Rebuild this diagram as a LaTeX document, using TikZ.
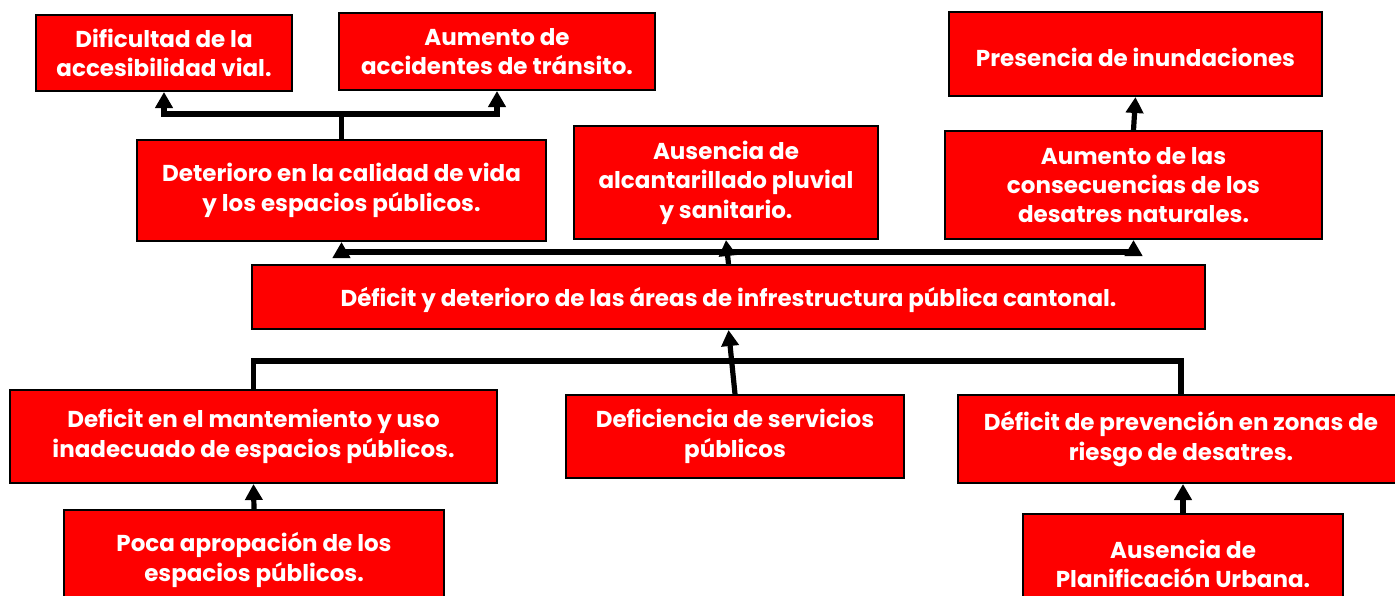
\documentclass[tikz,border=0pt]{standalone}
\usepackage{fontspec}
\setmainfont{Poppins}
\usepackage{tikz}
\usetikzlibrary{arrows.meta}
\definecolor{boxred}{HTML}{FE0000}

\begin{document}
\begin{tikzpicture}[x=0.5pt, y=-0.5pt,
    box/.style={draw=black, line width=1pt, fill=boxred, text=white, align=center,
        inner sep=2pt, font=\fontsize{11.5pt}{14.7pt}\selectfont\bfseries,
        execute at begin node={\rule{0pt}{13pt}}},
    link/.style={line width=2.6pt, line join=miter},
    arr/.style={link, -{Triangle[length=8pt, width=8.5pt]}}]
        \useasboundingbox (0,0) rectangle (1395,595);

        % Efectos
        \node[box, minimum width=128pt, minimum height=38pt] (acc) at (164,53)
            {Dificultad de la\\accesibilidad vial.};
        \node[box, minimum width=158pt, minimum height=38.5pt] (trans) at (497,51.5)
            {Aumento de\\accidentes de tránsito.};
        \node[box, minimum width=186.5pt, minimum height=42pt] (inund) at (1135.5,54)
            {Presencia de inundaciones};
        \node[box, minimum width=204.5pt, minimum height=50.5pt] (vida) at (341.5,190.5)
            {Deterioro en la calidad de vida\\y los espacios públicos.};
        \node[box, minimum width=152pt, minimum height=56.5pt] (alcant) at (726,182.5)
            {Ausencia de\\alcantarillado pluvial\\y sanitario.};
        \node[box, minimum width=188.5pt, minimum height=54pt] (desas) at (1133.5,185)
            {Aumento de las\\consecuencias de los\\desatres naturales.};

        % Problema central
        \node[box, minimum width=476.5pt, minimum height=32pt] (prob) at (728.5,297)
            {Déficit y deterioro de las áreas de infrestructura pública cantonal.};

        % Causas
        \node[box, minimum width=243.5pt, minimum height=46.5pt] (mant) at (253.5,436.5)
            {Deficit en el mantemiento y uso\\inadecuado de espacios públicos.};
        \node[box, minimum width=169pt, minimum height=41.5pt] (serv) at (735,436.5)
            {Deficiencia de servicios\\públicos};
        \node[box, minimum width=223pt, minimum height=44pt] (prev) at (1181,439)
            {Déficit de prevención en zonas de\\riesgo de desatres.};
        \node[box, minimum width=190pt, minimum height=50pt] (apro) at (254,560)
            {Poca apropación de los\\espacios públicos.};
        \node[box, minimum width=160pt, minimum height=50pt] (plan) at (1183,564)
            {Ausencia de\\Planificación Urbana.};

        % Conectores
        \coordinate (jvida) at (341.5,114);
        \coordinate (jprob) at (728.5,252);
        \coordinate (jcaus) at (729,361);

        \draw[link] (vida.north) -- (jvida);
        \draw[arr] (jvida) -| (acc.south);
        \draw[arr] (jvida) -| (trans.south);

        \draw[arr] (prob.north) -- (alcant.south);
        \draw[arr] (jprob) -| (vida.south);
        \draw[arr] (jprob) -| (desas.south);
        \draw[arr] (desas.north) -- (inund.south);

        \draw[link] (mant.north) |- (jcaus);
        \draw[link] (jcaus) -| (prev.north);
        \draw[arr] (serv.north) -- (prob.south);
        \draw[arr] (apro.north) -- (mant.south);
        \draw[arr] (plan.north) -- (plan.north |- prev.south);
    \end{tikzpicture}
\end{document}
